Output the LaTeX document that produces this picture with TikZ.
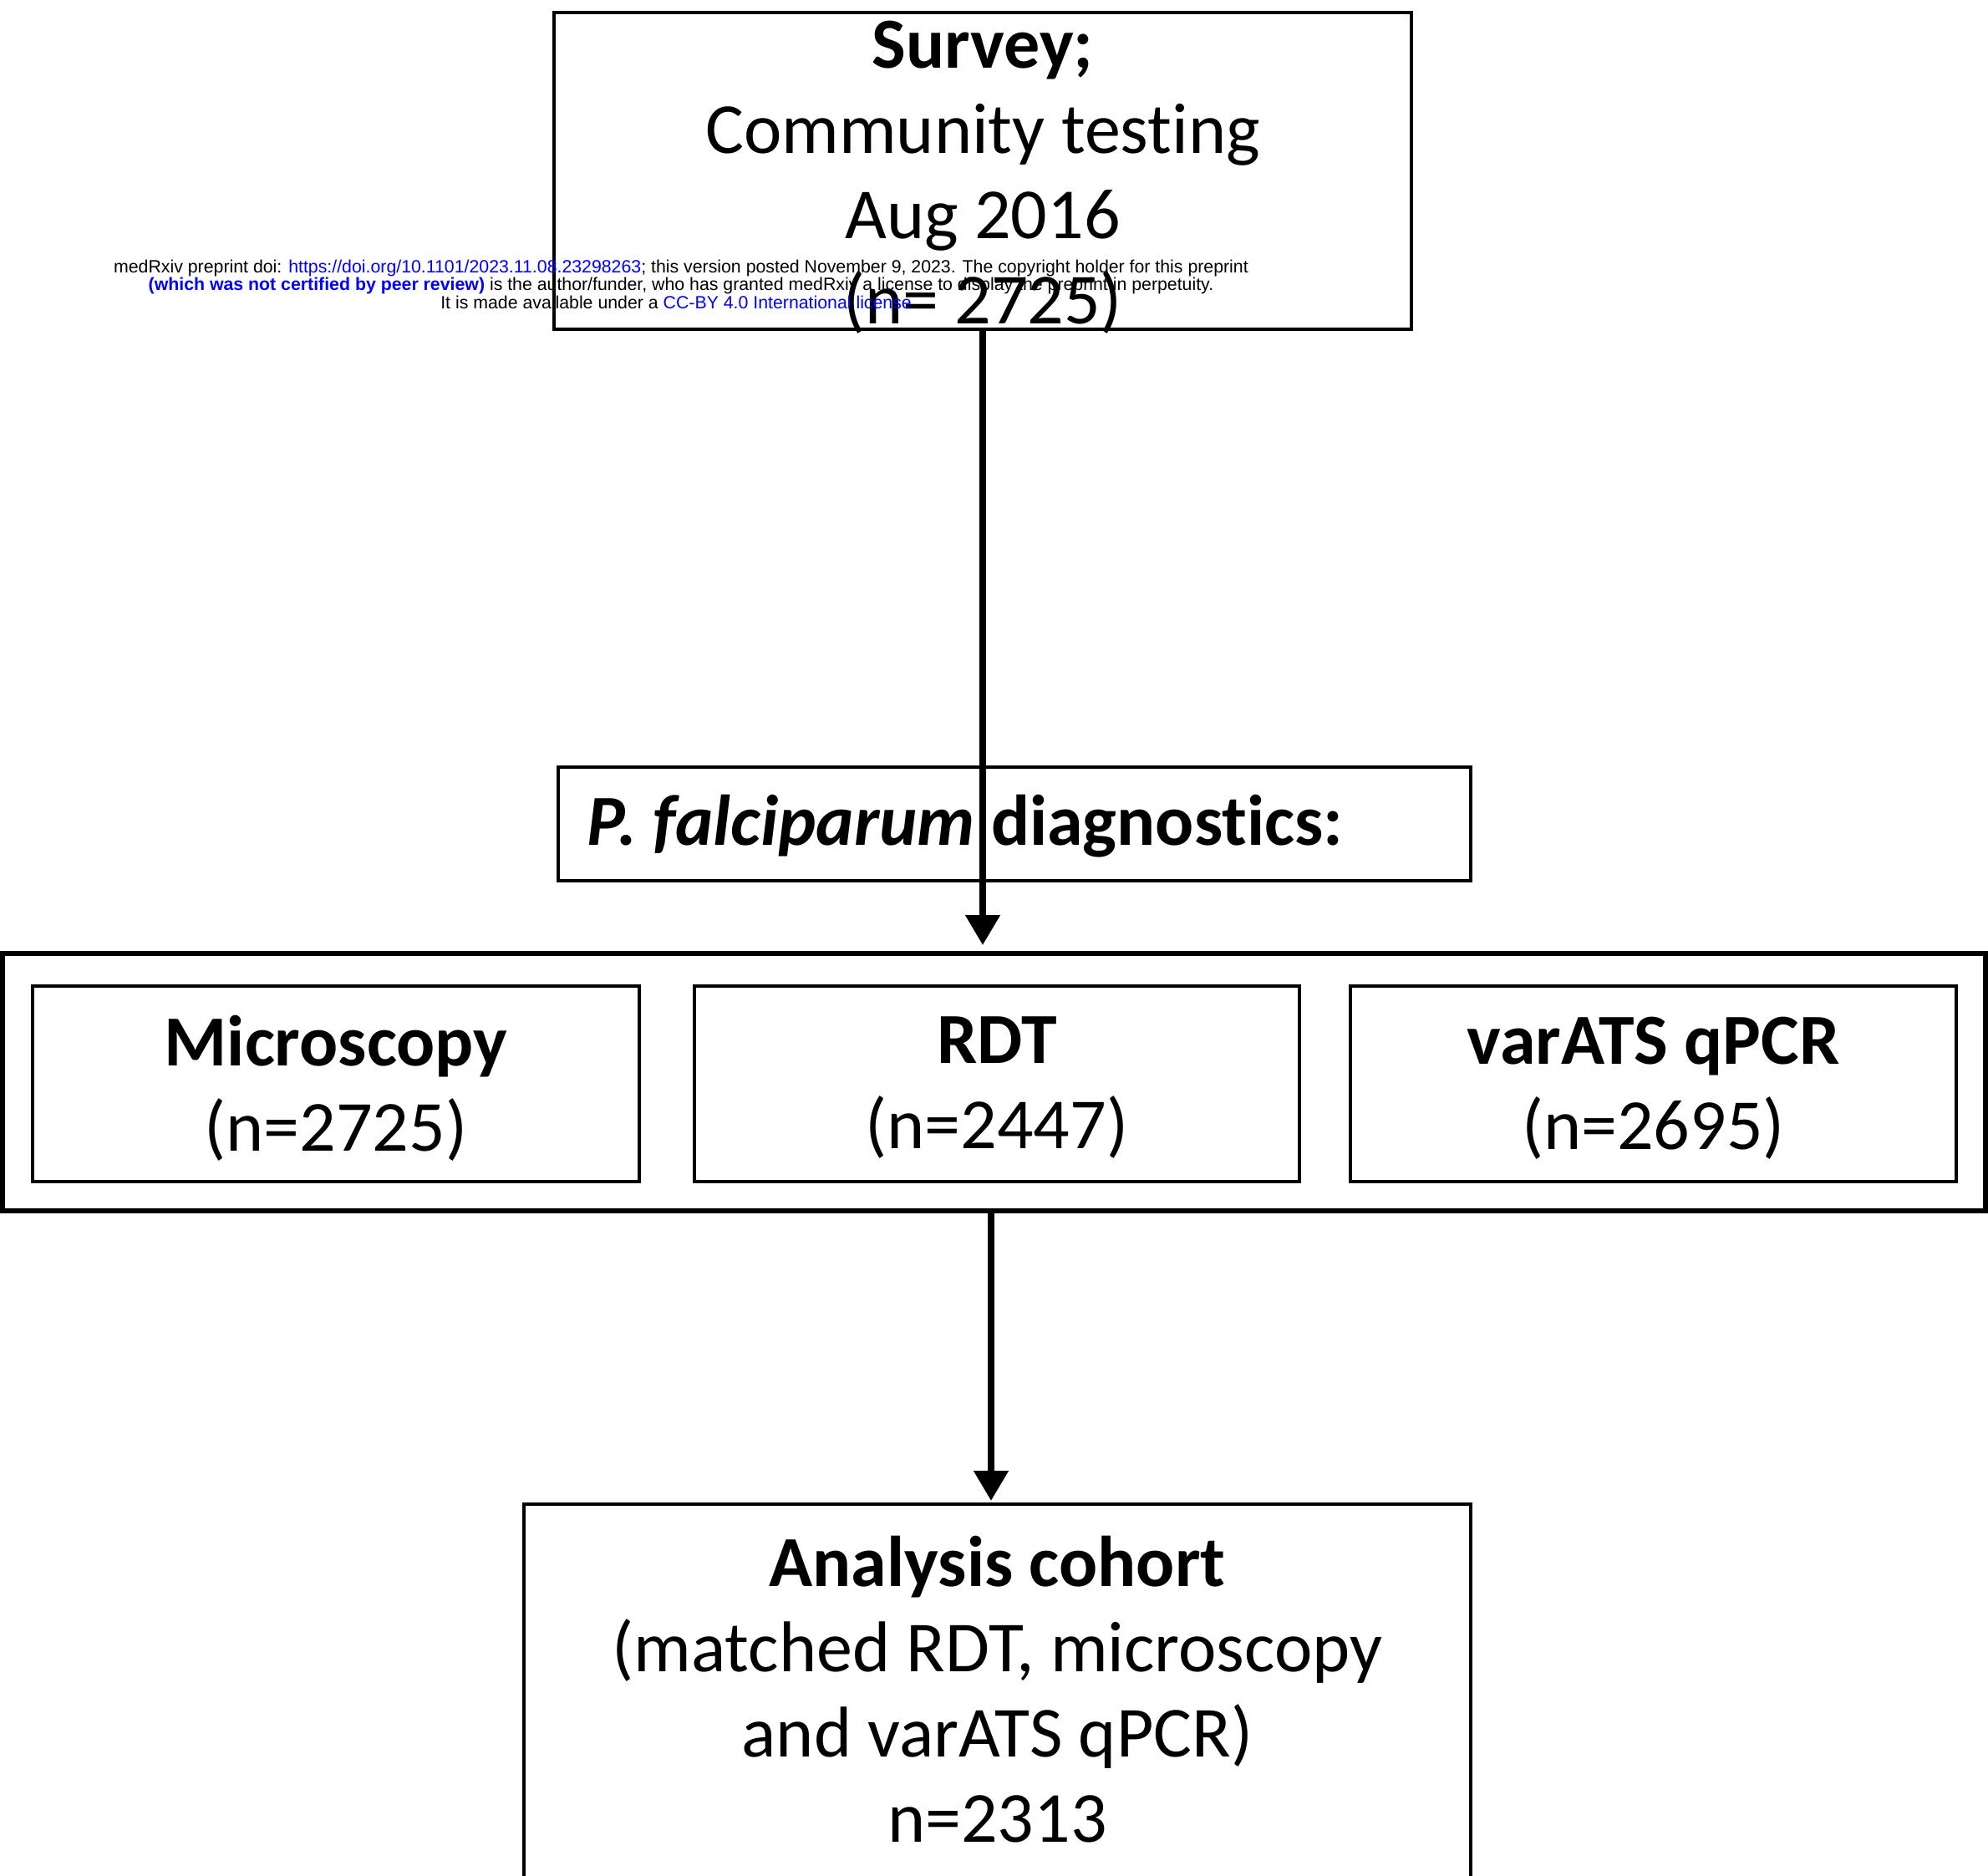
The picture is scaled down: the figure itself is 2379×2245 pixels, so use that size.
\documentclass[tikz,border=0pt]{standalone}
\usepackage{fontspec}
\setmainfont{Carlito}[Ligatures={NoCommon}]
\newfontfamily\wmfont{Liberation Sans}
\usetikzlibrary{arrows.meta,calc}
\definecolor{linkblue}{RGB}{0,0,255}
\begin{document}
\begin{tikzpicture}[x=1pt,y=-1pt,
  frame/.style={draw=black, line width=3.5pt, inner sep=0pt},
  bigtext/.style={font=\fontsize{86}{102}\selectfont, align=center, inner sep=0pt},
  conn/.style={line width=8pt, -{Triangle[length=36pt,width=40pt]}},
  wm/.style={font=\wmfont\fontsize{21.3}{21.5}\selectfont, align=center, inner sep=0pt}]
\useasboundingbox (0,0) rectangle (2379,2245);
% top box
\node[frame, minimum width=1026pt, minimum height=379pt] (survey) at (1176,204.5) {};
\node[bigtext] (surveytxt) at (1176,212) {\textbf{Survey;}\\Community testing\\Aug 2016\\(n= 2725)};
% P. falciparum box
\node[frame, minimum width=1092pt, minimum height=136pt] (pf) at (1214,986) {};
\node[bigtext, anchor=west] (pftxt) at (702,989) {\textbf{\textit{P. falciparum} diagnostics:}};
% outer diagnostics frame
\node[frame, line width=6pt, minimum width=2373pt, minimum height=308pt] (outer) at (1189.5,1295) {};
\node[frame, minimum width=726pt, minimum height=234pt] (micro) at (402,1297) {};
\node[bigtext] (microtxt) at (402,1302) {\textbf{Microscopy}\\(n=2725)};
\node[frame, minimum width=724pt, minimum height=234pt] (rdt) at (1193,1297) {};
\node[bigtext] (rdttxt) at (1193,1302) {\textbf{RDT}\\(n=2447)};
\node[frame, minimum width=725pt, minimum height=234pt] (qpcr) at (1978.5,1297) {};
\node[bigtext] (qpcrtxt) at (1978.5,1302) {\textbf{varATS qPCR}\\(n=2695)};
% bottom box
\node[frame, minimum width=1133pt, minimum height=500pt, anchor=north] (cohort) at (1193.5,1798) {};
\node[bigtext] (cohorttxt) at (1193.5,2022) {\textbf{Analysis cohort}\\(matched RDT, microscopy\\and varATS qPCR)\\n=2313};
% connectors
\draw[conn, shorten >=7pt] (survey.south) -- (survey.south |- outer.north);
\coordinate (ax) at (1186,0);
\draw[conn, shorten >=2pt] (ax |- outer.south) -- (ax |- cohort.north);
% watermark
\node[wm] (wm) at (815,340) {medRxiv preprint doi: \textcolor{linkblue}{https://doi.org/10.1101/2023.11.08.23298263}; this version posted November 9, 2023. The copyright holder for this preprint\\\textcolor{linkblue}{\textbf{(which was not certified by peer review)}} is the author/funder, who has granted medRxiv a license to display the preprint in perpetuity.\\It is made available under a \textcolor{linkblue}{CC-BY 4.0 International license} .};
\end{tikzpicture}
\end{document}
